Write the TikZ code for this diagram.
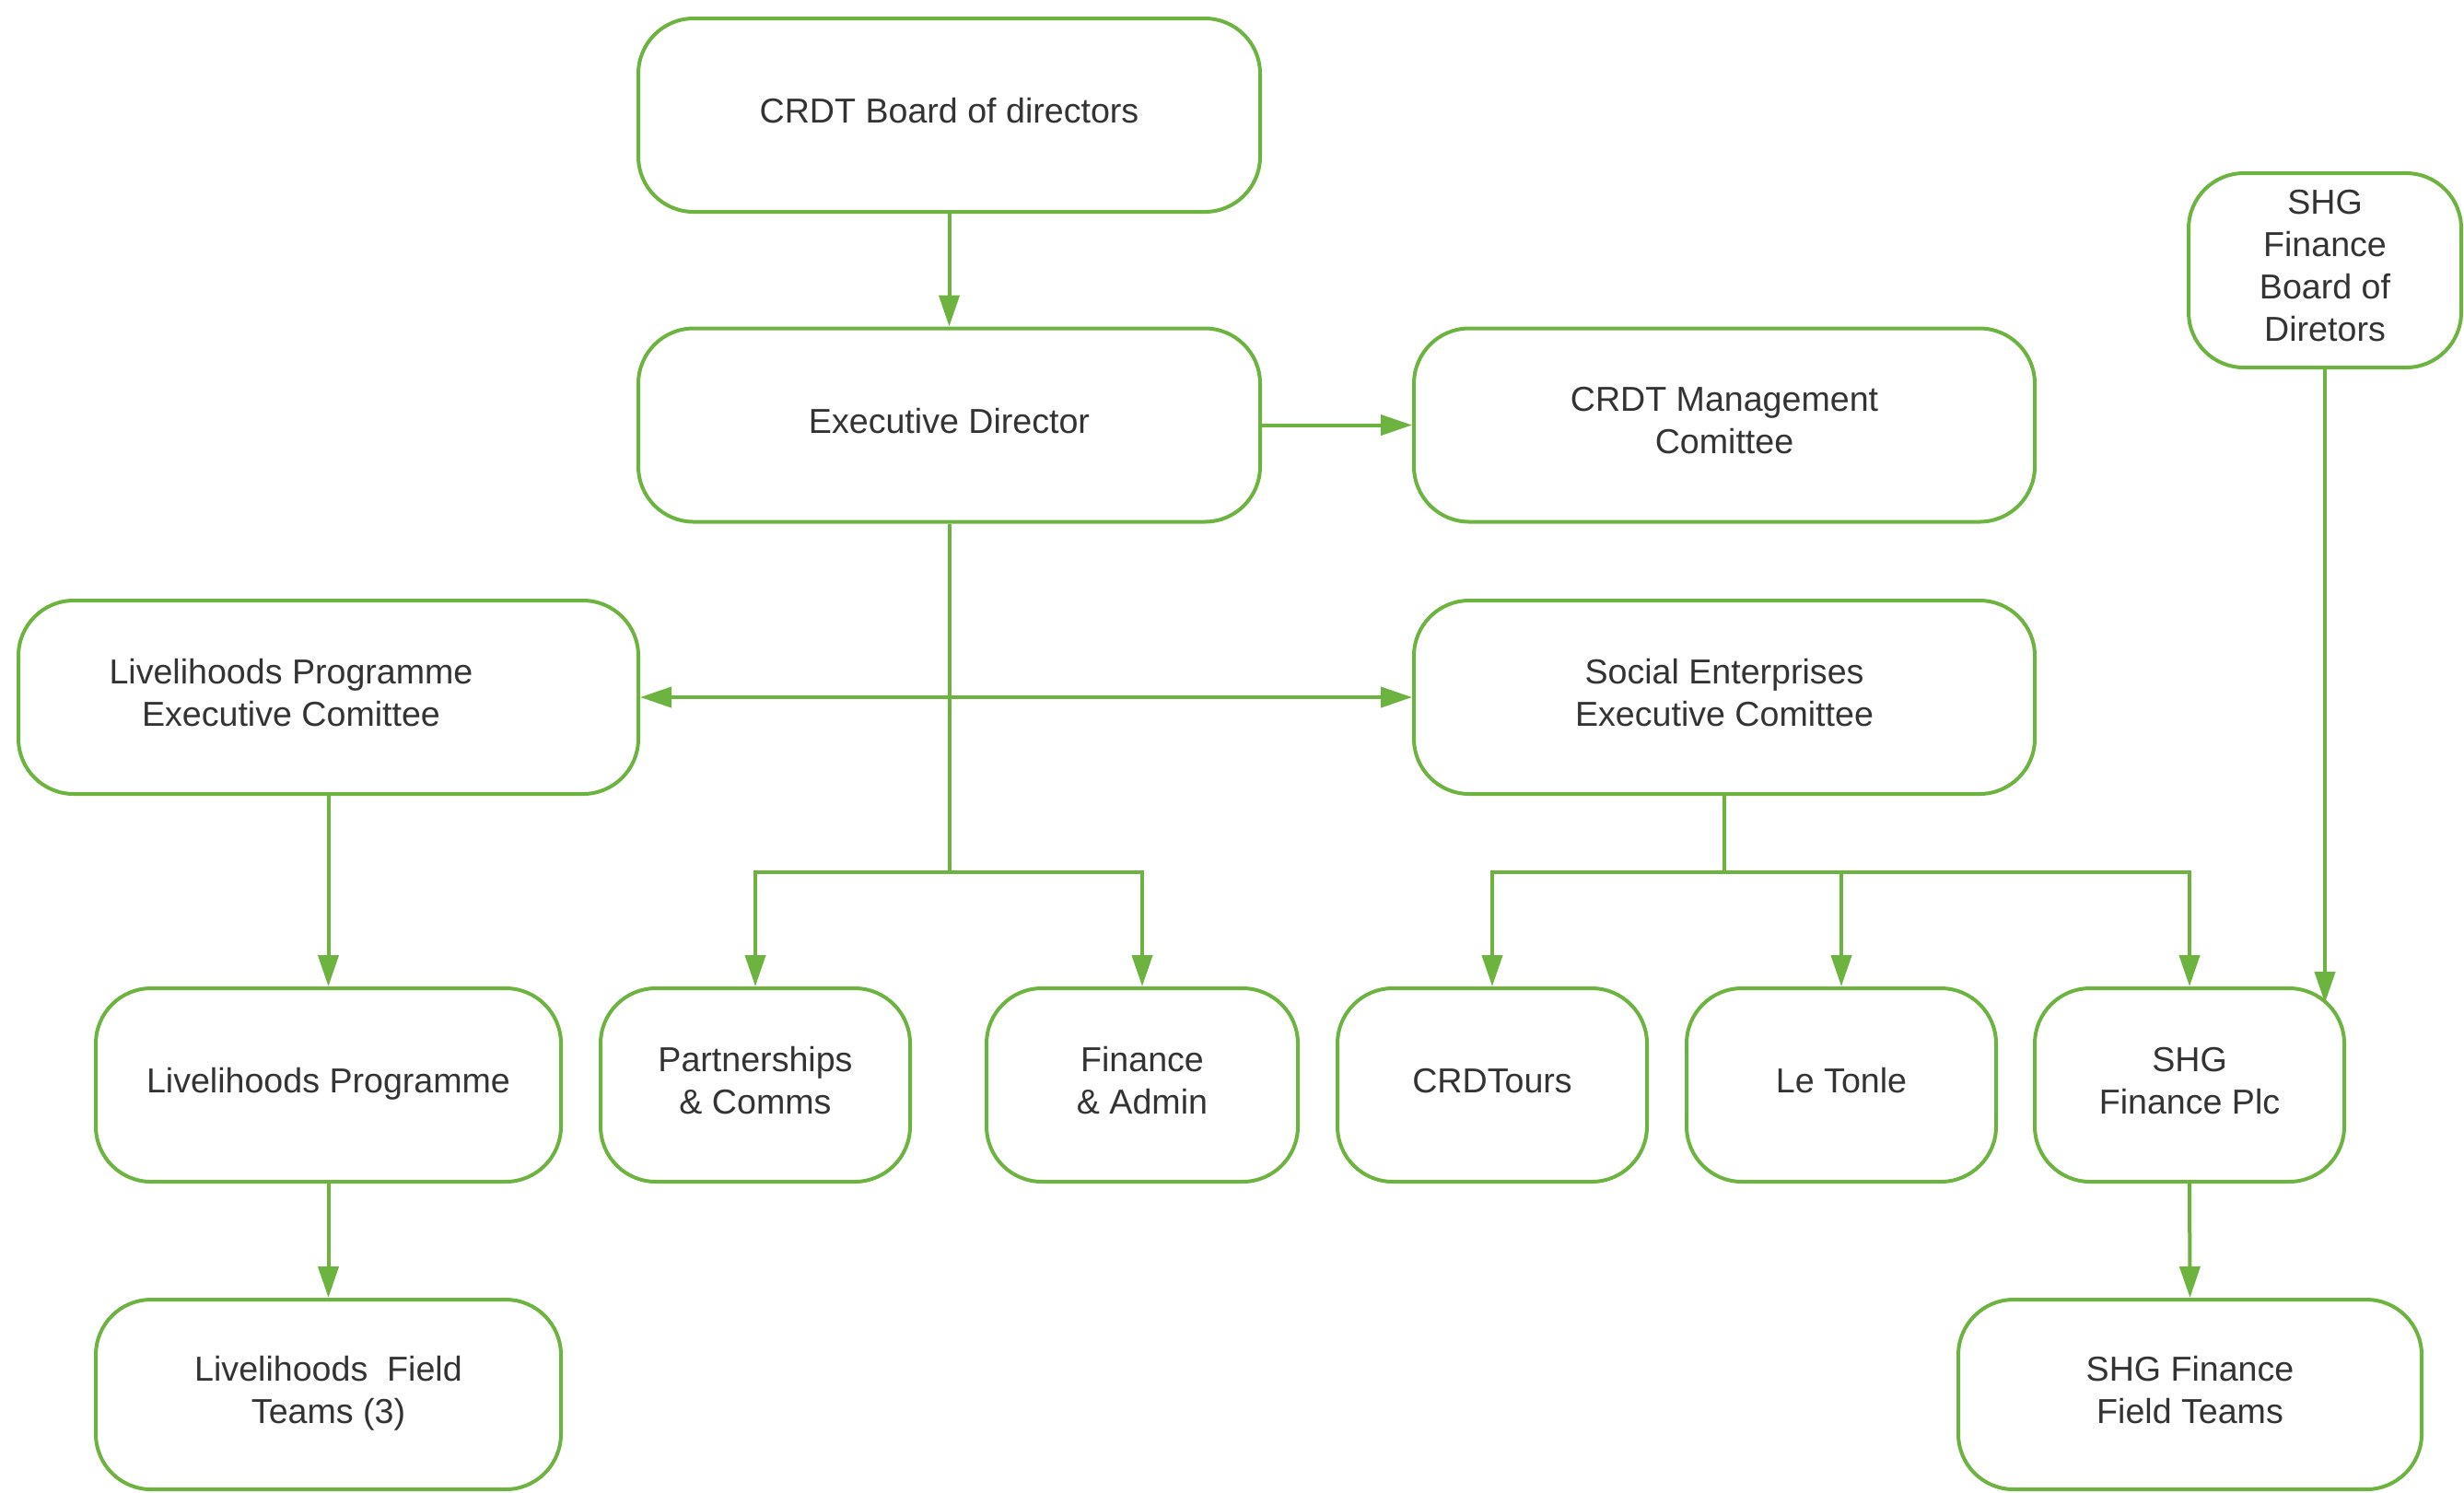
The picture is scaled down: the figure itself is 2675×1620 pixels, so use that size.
\documentclass[tikz,border=0pt]{standalone}
\usepackage{fontspec}
\setmainfont{Liberation Sans}
\usetikzlibrary{arrows.meta}
\definecolor{grn}{HTML}{6DB33F}
\definecolor{txt}{HTML}{333333}
\tikzset{
  box/.style={draw=grn, line width=1pt, rounded corners=15pt, fill=white, text=txt,
    align=center, font=\fontsize{9.4}{11.5}\selectfont, inner sep=0pt,
    minimum height=52.5pt, text depth=2.5pt},
  lbl/.style={text=txt, align=center, font=\fontsize{9.4}{11.5}\selectfont, inner sep=0pt, text depth=2.5pt},
  conn/.style={draw=grn, line width=1pt},
  arr/.style={conn, -{Triangle[length=8.5pt,width=5.5pt]}},
  arrboth/.style={conn, {Triangle[length=8.5pt,width=5.5pt]}-{Triangle[length=8.5pt,width=5.5pt]}}
}
\begin{document}
\begin{tikzpicture}[x=0.25pt,y=-0.25pt]
\useasboundingbox (0,0) rectangle (2675,1620);
% top
\node[box, minimum width=168.75pt] (bd) at (1030.5,125) {CRDT Board of directors};
\node[box, minimum width=168.75pt] (ex) at (1030.5,461.5) {Executive Director};
\node[box, minimum width=168.5pt] (mg) at (1872,461.5) {CRDT Management\\Comittee};
\node[box, minimum width=74pt, minimum height=52.75pt] (sb) at (2524,293.5) {SHG\\Finance\\Board of\\Diretors};
% middle
\node[box, minimum width=168.25pt] (le) at (356.5,757) {};
\node[lbl] (let) at (316,757) {Livelihoods Programme\\Executive Comittee};
\node[box, minimum width=168.5pt] (se) at (1872,757) {Social Enterprises\\Executive Comittee};
% bottom row
\node[box, minimum width=126.25pt] (lp) at (356.5,1178) {Livelihoods Programme};
\node[box, minimum width=84pt] (pa) at (820,1178) {Partnerships\\\& Comms};
\node[box, minimum width=84.5pt] (fi) at (1240,1178) {Finance\\\& Admin};
\node[box, minimum width=84pt] (ct) at (1620,1178) {CRDTours};
\node[box, minimum width=84pt] (lt) at (1999,1178) {Le Tonle};
\node[box, minimum width=84pt] (sp) at (2377,1178) {SHG\\Finance Plc};
% last row
\node[box, minimum width=126.25pt, minimum height=51.5pt] (lf) at (356.5,1514) {Livelihoods\ \ Field\\Teams (3)};
\node[box, minimum width=125.75pt, minimum height=51.5pt] (sf) at (2377.5,1514) {SHG Finance\\Field Teams};
% junctions
\coordinate (jn) at (1030.5,947);
\coordinate (jn2) at (1872,947);
\coordinate (sbend) at (2524,1089);
% connectors
\draw[arr] (bd.south) -- (ex.north);
\draw[arr] (ex.east) -- (mg.west);
\draw[conn] (ex.south) -- (jn);
\draw[arr] (jn) -| (pa.north);
\draw[arr] (jn) -| (fi.north);
\draw[arrboth] (le.east) -- (se.west);
\draw[arr] (le.south) -- (lp.north);
\draw[arr] (lp.south) -- (lf.north);
\draw[conn] (se.south) -- (jn2);
\draw[arr] (jn2) -| (ct.north);
\draw[arr] (jn2) -| (lt.north);
\draw[arr] (jn2) -| (sp.north);
\draw[arr] (sb.south) -- (sbend);
\draw[arr] (sp.south) -- (sf.north);
\end{tikzpicture}
\end{document}
